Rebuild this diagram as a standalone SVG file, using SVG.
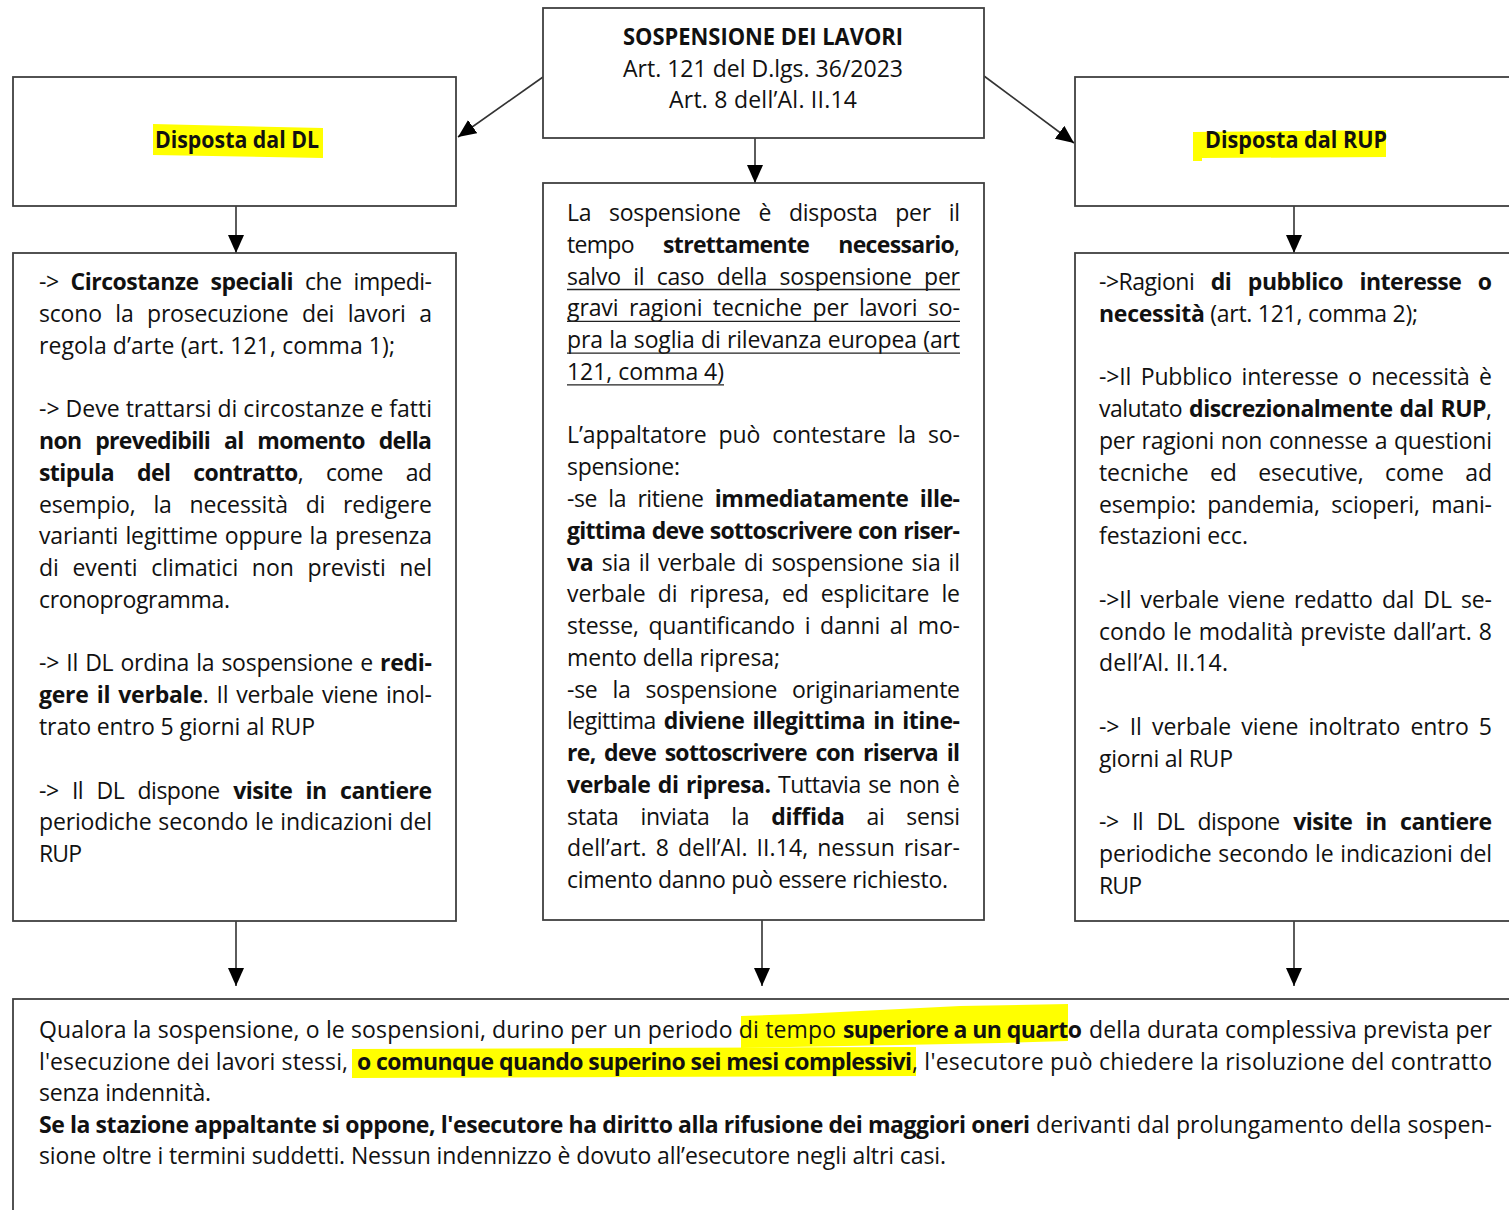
<svg xmlns="http://www.w3.org/2000/svg" width="1509" height="1210" viewBox="0 0 1509 1210">
<style>
.box{fill:#fff;stroke:#404040;stroke-width:1.8}
.t{font-family:"Open Sans","Noto Sans","Liberation Sans",sans-serif;font-size:23px;fill:#111}
.b{font-weight:bold}
.hl{fill:#ffff00}
.ul{stroke:#222;stroke-width:1.3}
.con line{stroke:#333;stroke-width:1.6}
</style>
<defs>
<marker id="ah" viewBox="0 0 18 16" refX="18" refY="8" markerWidth="18" markerHeight="16" markerUnits="userSpaceOnUse" orient="auto">
<path d="M0,0 L18,8 L0,16 z" fill="#000"/>
</marker>
</defs>
<rect width="1509" height="1210" fill="#fff"/>

<g id="connectors" class="con">
<line x1="543" y1="77" x2="458" y2="137" marker-end="url(#ah)"/>
<line x1="984" y1="76" x2="1074" y2="143" marker-end="url(#ah)"/>
<line x1="755" y1="138" x2="755" y2="183" marker-end="url(#ah)"/>
<line x1="236" y1="206" x2="236" y2="253" marker-end="url(#ah)"/>
<line x1="1294" y1="206" x2="1294" y2="253" marker-end="url(#ah)"/>
<line x1="236" y1="921" x2="236" y2="986" marker-end="url(#ah)"/>
<line x1="762" y1="920" x2="762" y2="986" marker-end="url(#ah)"/>
<line x1="1294" y1="921" x2="1294" y2="986" marker-end="url(#ah)"/>
</g>

<g id="node-title">
<rect class="box" x="543" y="8" width="441" height="130"/>
<text class="t b" x="763" y="45" text-anchor="middle" textLength="280" lengthAdjust="spacingAndGlyphs">SOSPENSIONE DEI LAVORI</text>
<text class="t" x="763" y="77" text-anchor="middle" textLength="280" lengthAdjust="spacing">Art. 121 del D.lgs. 36/2023</text>
<text class="t" x="763" y="108" text-anchor="middle" textLength="188" lengthAdjust="spacing">Art. 8 dell’Al. II.14</text>
</g>

<g id="node-dl">
<rect class="box" x="13" y="77" width="443" height="129"/>
<polygon class="hl" points="153,124 323,128 323,158 153,155"/>
<text class="t b" x="155" y="148" textLength="164" lengthAdjust="spacingAndGlyphs">Disposta dal DL</text>
</g>

<g id="node-rup">
<rect class="box" x="1075" y="77" width="445" height="129"/>
<polygon class="hl" points="1193,132 1386,130 1386,157 1202,158 1202,161 1193,161"/>
<text class="t b" x="1205" y="148" textLength="182" lengthAdjust="spacingAndGlyphs">Disposta dal RUP</text>
</g>

<g id="node-dl-body">
<rect class="box" x="13" y="253" width="443" height="668"/>
<text class="t" x="39" y="290" textLength="393" lengthAdjust="spacing" word-spacing="6.5">-&gt; <tspan class="b">Circostanze speciali</tspan> che impedi-</text>
<text class="t" x="39" y="321.8" textLength="393" lengthAdjust="spacing" word-spacing="7.7">scono la prosecuzione dei lavori a</text>
<text class="t" x="39" y="353.6" textLength="356" lengthAdjust="spacing">regola d’arte (art. 121, comma 1);</text>
<text class="t" x="39" y="417.1" textLength="393" lengthAdjust="spacing">-&gt; Deve trattarsi di circostanze e fatti</text>
<text class="t b" x="39" y="448.9" textLength="393" lengthAdjust="spacing" word-spacing="8.5">non prevedibili al momento della</text>
<text class="t" x="39" y="480.7" textLength="393" lengthAdjust="spacing" word-spacing="17.5"><tspan class="b">stipula del contratto</tspan>, come ad</text>
<text class="t" x="39" y="512.5" textLength="393" lengthAdjust="spacing" word-spacing="12">esempio, la necessità di redigere</text>
<text class="t" x="39" y="544.2" textLength="393" lengthAdjust="spacing" word-spacing="1.3">varianti legittime oppure la presenza</text>
<text class="t" x="39" y="576" textLength="393" lengthAdjust="spacing" word-spacing="7.7">di eventi climatici non previsti nel</text>
<text class="t" x="39" y="607.8" textLength="191" lengthAdjust="spacing">cronoprogramma.</text>
<text class="t" x="39" y="671.4" textLength="393" lengthAdjust="spacing" word-spacing="1.5">-&gt; Il DL ordina la sospensione e <tspan class="b">redi-</tspan></text>
<text class="t" x="39" y="703.1" textLength="393" lengthAdjust="spacing" word-spacing="2.3"><tspan class="b">gere il verbale</tspan>. Il verbale viene inol-</text>
<text class="t" x="39" y="734.9" textLength="276" lengthAdjust="spacing">trato entro 5 giorni al RUP</text>
<text class="t" x="39" y="798.5" textLength="393" lengthAdjust="spacing" word-spacing="7.9">-&gt; Il DL dispone <tspan class="b">visite in cantiere</tspan></text>
<text class="t" x="39" y="830.3" textLength="393" lengthAdjust="spacing" word-spacing="1.1">periodiche secondo le indicazioni del</text>
<text class="t" x="39" y="862" textLength="43" lengthAdjust="spacing">RUP</text>
</g>

<g id="node-center-body">
<rect class="box" x="543" y="183" width="441" height="737"/>
<text class="t" x="567" y="221" textLength="393" lengthAdjust="spacing" word-spacing="12.1">La sospensione è disposta per il</text>
<text class="t" x="567" y="252.8" textLength="393" lengthAdjust="spacing" word-spacing="23.9">tempo <tspan class="b">strettamente necessario</tspan>,</text>
<text class="t" x="567" y="284.5" textLength="393" lengthAdjust="spacing" word-spacing="6.6">salvo il caso della sospensione per</text>
<text class="t" x="567" y="316.3" textLength="393" lengthAdjust="spacing" word-spacing="4.6">gravi ragioni tecniche per lavori so-</text>
<text class="t" x="567" y="348.1" textLength="393" lengthAdjust="spacing" word-spacing="0.5">pra la soglia di rilevanza europea (art</text>
<text class="t" x="567" y="379.9" textLength="157" lengthAdjust="spacing">121, comma 4)</text>
<line class="ul" x1="567" y1="289.5" x2="960" y2="289.5"/>
<line class="ul" x1="567" y1="321.3" x2="960" y2="321.3"/>
<line class="ul" x1="567" y1="353.1" x2="960" y2="353.1"/>
<line class="ul" x1="567" y1="384.9" x2="724" y2="384.9"/>
<text class="t" x="567" y="443.4" textLength="393" lengthAdjust="spacing" word-spacing="6">L’appaltatore può contestare la so-</text>
<text class="t" x="567" y="475.2" textLength="113" lengthAdjust="spacing">spensione:</text>
<text class="t" x="567" y="506.9" textLength="393" lengthAdjust="spacing" word-spacing="5.9">-se la ritiene <tspan class="b">immediatamente ille-</tspan></text>
<text class="t b" x="567" y="538.7" textLength="393" lengthAdjust="spacing" word-spacing="1">gittima deve sottoscrivere con riser-</text>
<text class="t" x="567" y="570.5" textLength="393" lengthAdjust="spacing" word-spacing="2.4"><tspan class="b">va</tspan> sia il verbale di sospensione sia il</text>
<text class="t" x="567" y="602.2" textLength="393" lengthAdjust="spacing" word-spacing="6.2">verbale di ripresa, ed esplicitare le</text>
<text class="t" x="567" y="634" textLength="393" lengthAdjust="spacing" word-spacing="3.9">stesse, quantificando i danni al mo-</text>
<text class="t" x="567" y="665.8" textLength="213" lengthAdjust="spacing">mento della ripresa;</text>
<text class="t" x="567" y="697.6" textLength="393" lengthAdjust="spacing" word-spacing="9.2">-se la sospensione originariamente</text>
<text class="t" x="567" y="729.3" textLength="393" lengthAdjust="spacing" word-spacing="2.5">legittima <tspan class="b">diviene illegittima in itine-</tspan></text>
<text class="t b" x="567" y="761.1" textLength="393" lengthAdjust="spacing" word-spacing="3.3">re, deve sottoscrivere con riserva il</text>
<text class="t" x="567" y="792.9" textLength="393" lengthAdjust="spacing" word-spacing="1.9"><tspan class="b">verbale di ripresa.</tspan> Tuttavia se non è</text>
<text class="t" x="567" y="824.6" textLength="393" lengthAdjust="spacing" word-spacing="16.1">stata inviata la <tspan class="b">diffida</tspan> ai sensi</text>
<text class="t" x="567" y="856.4" textLength="393" lengthAdjust="spacing" word-spacing="2.9">dell’art. 8 dell’Al. II.14, nessun risar-</text>
<text class="t" x="567" y="888.2" textLength="381" lengthAdjust="spacing">cimento danno può essere richiesto.</text>
</g>

<g id="node-rup-body">
<rect class="box" x="1075" y="253" width="445" height="668"/>
<text class="t" x="1099" y="290" textLength="393" lengthAdjust="spacing" word-spacing="11">-&gt;Ragioni <tspan class="b">di pubblico interesse o</tspan></text>
<text class="t" x="1099" y="321.8" textLength="319" lengthAdjust="spacing"><tspan class="b">necessità</tspan> (art. 121, comma 2);</text>
<text class="t" x="1099" y="385.3" textLength="393" lengthAdjust="spacing" word-spacing="3.6">-&gt;Il Pubblico interesse o necessità è</text>
<text class="t" x="1099" y="417.1" textLength="393" lengthAdjust="spacing" word-spacing="1.6">valutato <tspan class="b">discrezionalmente dal RUP</tspan>,</text>
<text class="t" x="1099" y="448.9" textLength="393" lengthAdjust="spacing" word-spacing="1">per ragioni non connesse a questioni</text>
<text class="t" x="1099" y="480.7" textLength="393" lengthAdjust="spacing" word-spacing="15.5">tecniche ed esecutive, come ad</text>
<text class="t" x="1099" y="512.5" textLength="393" lengthAdjust="spacing" word-spacing="5.5">esempio: pandemia, scioperi, mani-</text>
<text class="t" x="1099" y="544.2" textLength="149" lengthAdjust="spacing">festazioni ecc.</text>
<text class="t" x="1099" y="607.8" textLength="393" lengthAdjust="spacing" word-spacing="3.2">-&gt;Il verbale viene redatto dal DL se-</text>
<text class="t" x="1099" y="639.6" textLength="393" lengthAdjust="spacing" word-spacing="1.1">condo le modalità previste dall’art. 8</text>
<text class="t" x="1099" y="671.4" textLength="129" lengthAdjust="spacing">dell’Al. II.14.</text>
<text class="t" x="1099" y="734.9" textLength="393" lengthAdjust="spacing" word-spacing="4.2">-&gt; Il verbale viene inoltrato entro 5</text>
<text class="t" x="1099" y="766.7" textLength="134" lengthAdjust="spacing">giorni al RUP</text>
<text class="t" x="1099" y="830.3" textLength="393" lengthAdjust="spacing" word-spacing="7.9">-&gt; Il DL dispone <tspan class="b">visite in cantiere</tspan></text>
<text class="t" x="1099" y="862" textLength="393" lengthAdjust="spacing" word-spacing="1.1">periodiche secondo le indicazioni del</text>
<text class="t" x="1099" y="893.8" textLength="43" lengthAdjust="spacing">RUP</text>
</g>

<g id="node-bottom">
<rect class="box" x="13" y="999" width="1510" height="225"/>
<polygon class="hl" points="741,1016 800,1014 880,1010 960,1006 1068,1004 1068,1041 1000,1043 900,1045 741,1048"/>
<polygon class="hl" points="352,1049 916,1047 916,1076 352,1078"/>
<text class="t" x="39" y="1038" textLength="797" lengthAdjust="spacing">Qualora la sospensione, o le sospensioni, durino per un periodo di tempo</text>
<text class="t b" x="843" y="1038" textLength="239" lengthAdjust="spacing">superiore a un quarto</text>
<text class="t" x="1089" y="1038" textLength="403" lengthAdjust="spacing">della durata complessiva prevista per</text>
<text class="t" x="39" y="1070" textLength="309" lengthAdjust="spacing">l'esecuzione dei lavori stessi,</text>
<text class="t b" x="357" y="1070" textLength="555" lengthAdjust="spacing">o comunque quando superino sei mesi complessivi</text>
<text class="t" x="912" y="1070" textLength="580" lengthAdjust="spacing">, l'esecutore può chiedere la risoluzione del contratto</text>
<text class="t" x="39" y="1101" textLength="172" lengthAdjust="spacing">senza indennità.</text>
<text class="t b" x="39" y="1133" textLength="991" lengthAdjust="spacing">Se la stazione appaltante si oppone, l'esecutore ha diritto alla rifusione dei maggiori oneri</text>
<text class="t" x="1036" y="1133" textLength="456" lengthAdjust="spacing">derivanti dal prolungamento della sospen-</text>
<text class="t" x="39" y="1164" textLength="907" lengthAdjust="spacing">sione oltre i termini suddetti. Nessun indennizzo è dovuto all’esecutore negli altri casi.</text>
</g>
</svg>
